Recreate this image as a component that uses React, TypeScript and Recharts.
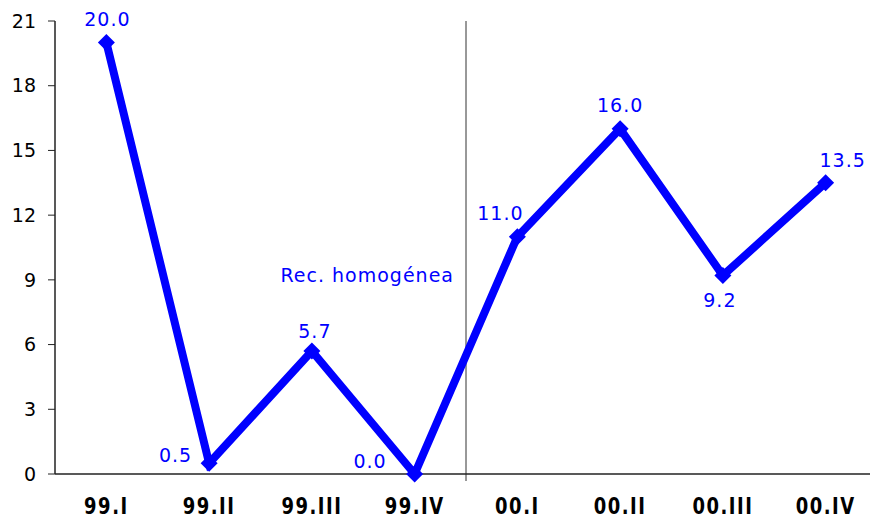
import { LineChart, Line, XAxis, YAxis, ReferenceLine, LabelList } from "recharts"

const quarters = ["99.I", "99.II", "99.III", "99.IV", "00.I", "00.II", "00.III", "00.IV"]
const values = [20.0, 0.5, 5.7, 0.0, 11.0, 16.0, 9.2, 13.5]
const yTicks = [0, 3, 6, 9, 12, 15, 18, 21]
const splitAfter = "99.IV"
const splitLabel = "Rec. homogénea"

const data = quarters.map((q, i) => ({ q, v: values[i] }))

const BLUE = "#0000ff"
const FONT = "'DejaVu Sans', Verdana, sans-serif"

// where each value label sits relative to its point: [dx, dy, anchor]
const labelPlace: [number, number, string][] = [
  [1, -24, "middle"],
  [-17, -8, "end"],
  [3, -20, "middle"],
  [-28, -13, "end"],
  [-17, -24, "middle"],
  [0, -24, "middle"],
  [-3, 24, "middle"],
  [17, -23, "middle"],
]

function Diamond(props: any) {
  const { cx, cy } = props
  if (cx == null || cy == null) return null
  const r = 8.5
  return <polygon points={`${cx},${cy - r} ${cx + r},${cy} ${cx},${cy + r} ${cx - r},${cy}`} fill={BLUE} />
}

function ValueLabel(props: any) {
  const { x, y, value, index } = props
  const [dx, dy, anchor] = labelPlace[index] ?? [0, -20, "middle"]
  return (
    <text
      x={x + dx}
      y={y + dy}
      textAnchor={anchor}
      dominantBaseline="central"
      fill={BLUE}
      fontSize={19}
      letterSpacing={1}
      fontFamily={FONT}
    >
      {Number(value).toFixed(1)}
    </text>
  )
}

// bold quarter labels, a bit stretched vertically like the original
function QuarterTick(props: any) {
  const { x, y, payload } = props
  return (
    <g transform={`translate(${x},${y}) scale(1,1.3)`}>
      <text x={0} y={13} textAnchor="middle" fill="#000" fontSize={18} fontWeight="bold" letterSpacing={1.5} fontFamily={FONT}>
        {payload.value}
      </text>
    </g>
  )
}

function SplitLine(p: any) {
  const top = Math.min(p.y1, p.y2)
  const bottom = Math.max(p.y1, p.y2)
  return <line x1={p.x1} y1={top} x2={p.x2} y2={bottom + 7} stroke="#333" strokeWidth={1} />
}

export default function App() {
  return (
    <div style={{ position: "absolute", left: 0, top: 0, width: 870, height: 516, overflow: "hidden", background: "#fff" }}>
      <LineChart width={880} height={516} data={data} margin={{ top: 21, right: 3, left: 0, bottom: 0 }}>
        <XAxis
          dataKey="q"
          scale="band"
          axisLine={{ stroke: "#222", strokeWidth: 1.5 }}
          tickLine={false}
          tickMargin={17}
          height={42}
          interval={0}
          tick={<QuarterTick />}
        />
        <YAxis
          domain={[0, 21]}
          ticks={yTicks}
          width={55}
          axisLine={{ stroke: "#222", strokeWidth: 1.5 }}
          tickLine={{ stroke: "#222" }}
          tickSize={7}
          tickMargin={12}
          tick={{ fill: "#000", fontSize: 19, fontFamily: FONT }}
        />
        <ReferenceLine
          x={splitAfter}
          position="end"
          stroke="#333"
          strokeWidth={1}
          shape={(p: any) => <SplitLine {...p} />}
          label={(p: any) => (
            <text
              x={p.viewBox.x - 12}
              y={275}
              textAnchor="end"
              dominantBaseline="central"
              fill={BLUE}
              fontSize={19}
              letterSpacing={1}
              fontFamily={FONT}
            >
              {splitLabel}
            </text>
          )}
        />
        <Line
          type="linear"
          dataKey="v"
          stroke={BLUE}
          strokeWidth={8}
          dot={<Diamond />}
          activeDot={false}
          isAnimationActive={false}
        >
          <LabelList dataKey="v" content={<ValueLabel />} />
        </Line>
      </LineChart>
    </div>
  )
}
